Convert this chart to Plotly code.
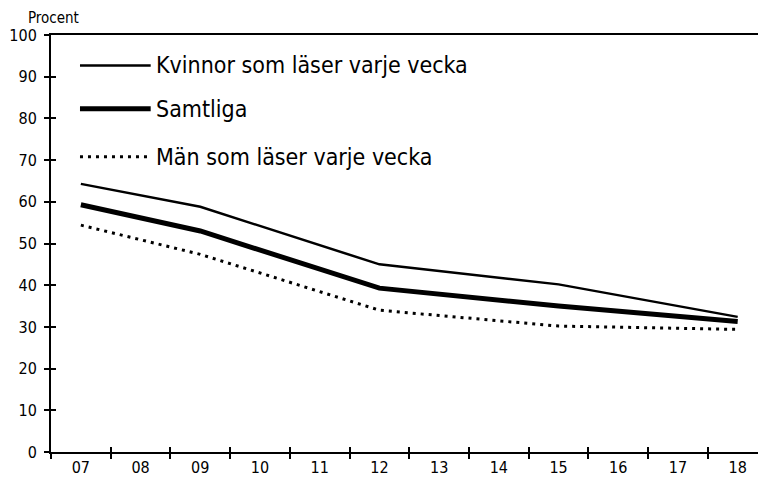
import plotly.graph_objects as go

years = ["07", "08", "09", "10", "11", "12", "13", "14", "15", "16", "17", "18"]
point_years = ["07", "09", "12", "15", "18"]
kvinnor = [64.3, 58.8, 45.0, 40.2, 32.4]
samtliga = [59.3, 53.0, 39.3, 35.0, 31.3]
man = [54.4, 47.4, 34.0, 30.2, 29.4]
names = ["Kvinnor som läser varje vecka", "Samtliga", "Män som läser varje vecka"]
y_ticks = [0, 10, 20, 30, 40, 50, 60, 70, 80, 90, 100]

FONT = "DejaVu Sans Condensed, Liberation Sans Narrow, Roboto Condensed, Roboto, sans-serif"
styles = [dict(width=2.5, dash="solid"), dict(width=5, dash="solid"), dict(width=3, dash="3px,5px")]

fig = go.Figure()
for name, vals, st in zip(names, [kvinnor, samtliga, man], styles):
    fig.add_trace(go.Scatter(x=point_years, y=vals, mode="lines", name=name,
                             line=dict(color="black", width=st["width"], dash=st["dash"]),
                             showlegend=False))
# invisible trace to define categories on the overlay axes
fig.add_trace(go.Scatter(x=years, y=[None]*len(years), xaxis="x2", yaxis="y2",
                         mode="lines", showlegend=False, hoverinfo="skip"))

xr = [-0.5, 11.34]
fig.update_layout(
    width=758, height=483,
    margin=dict(l=51, r=0, t=35, b=31, autoexpand=False),
    paper_bgcolor="white", plot_bgcolor="white",
    font=dict(family=FONT, size=16, color="black"),
    xaxis=dict(type="category", categoryorder="array", categoryarray=years, range=xr,
               tickson="boundaries", ticks="outside", ticklen=5, tickwidth=2, tickcolor="black",
               showline=True, linewidth=2, linecolor="black", mirror=True,
               showgrid=False, zeroline=False, tickfont=dict(size=16)),
    yaxis=dict(range=[0, 100], tickvals=y_ticks, ticks="outside", ticklen=5, tickwidth=2,
               tickcolor="black", showline=True, linewidth=2, linecolor="black",
               showgrid=False, zeroline=False, tickfont=dict(size=16), ticklabelstandoff=4),
    xaxis2=dict(type="category", categoryorder="array", categoryarray=years, range=xr,
                overlaying="x", tickson="boundaries", ticks="inside", ticklen=5, tickwidth=2,
                tickcolor="black", showticklabels=False, showgrid=False, zeroline=False,
                showline=False),
    yaxis2=dict(range=[0, 100], tickvals=y_ticks, overlaying="y", ticks="inside", ticklen=5,
                tickwidth=2, tickcolor="black", showticklabels=False, showgrid=False,
                zeroline=False, showline=False),
)

fig.add_annotation(text="Procent", xref="paper", yref="paper", x=-0.035, y=1.0,
                   xanchor="left", yanchor="bottom", yshift=6, showarrow=False,
                   font=dict(size=15))

# custom legend
leg_y = [0.927, 0.823, 0.708]
for name, st, ly in zip(names, styles, leg_y):
    fig.add_shape(type="line", xref="paper", yref="paper", x0=0.041, x1=0.141, y0=ly, y1=ly,
                  line=dict(color="black", width=st["width"], dash=st["dash"]))
    fig.add_annotation(text=name, xref="paper", yref="paper", x=0.145, y=ly, xanchor="left",
                       yanchor="middle", showarrow=False, font=dict(size=23))

fig.write_html("out.html", config={"displayModeBar": False},
               post_script="document.body.style.margin='0';document.body.style.padding='0';")
